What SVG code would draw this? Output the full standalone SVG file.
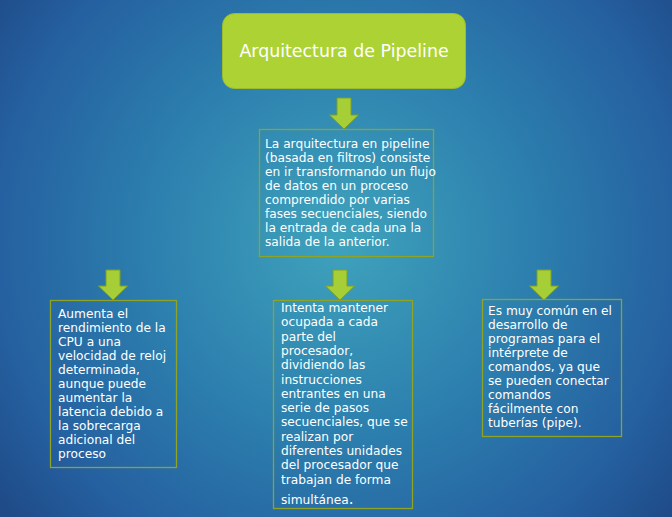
<svg xmlns="http://www.w3.org/2000/svg" width="672" height="517" viewBox="0 0 672 517">
<defs>
<radialGradient id="bg" cx="340" cy="240" r="430" gradientUnits="userSpaceOnUse">
<stop offset="0" stop-color="#3fa3bc"/>
<stop offset="0.45" stop-color="#2c7fae"/>
<stop offset="0.8" stop-color="#2560a0"/>
<stop offset="1" stop-color="#1f4b88"/>
</radialGradient>
<path id="arrowTop" d="M-7,0 H7 V17 H14.5 L0,31 L-14.5,17 H-7 Z"/>
<path id="arrow" d="M-7,0 H7 V16 H14.5 L0,30 L-14.5,16 H-7 Z"/>
</defs>
<style>
.arw{fill:#a6cf37;stroke:#7f9f22;stroke-width:1}
.box{fill:none;stroke:#8fa324;stroke-width:1.3}
.t{font-family:"DejaVu Sans","Liberation Sans",sans-serif;font-size:12.2px;fill:#ffffff}
.title{font-family:"DejaVu Sans","Liberation Sans",sans-serif;font-size:17.4px;fill:#ffffff}
</style>
<rect x="0" y="0" width="672" height="517" fill="url(#bg)"/>

<g id="connectors">
<use href="#arrowTop" x="344" y="98" class="arw"/>
<use href="#arrow" x="113" y="270" class="arw"/>
<use href="#arrow" x="340" y="270" class="arw"/>
<use href="#arrow" x="544" y="270" class="arw"/>
</g>

<g id="title">
<rect x="222.5" y="13.5" width="243" height="75" rx="12" fill="#acd333" stroke="#9bbd2d" stroke-width="1"/>
<text class="title" x="344" y="57" text-anchor="middle">Arquitectura de Pipeline</text>
</g>

<g id="desc">
<rect class="box" x="259.5" y="129.5" width="174" height="127"/>
<text class="t">
<tspan x="265" y="148">La arquitectura en pipeline</tspan>
<tspan x="265" y="162">(basada en filtros) consiste</tspan>
<tspan x="265" y="176">en ir transformando un flujo</tspan>
<tspan x="265" y="190">de datos en un proceso</tspan>
<tspan x="265" y="204">comprendido por varias</tspan>
<tspan x="265" y="218">fases secuenciales, siendo</tspan>
<tspan x="265" y="232">la entrada de cada una la</tspan>
<tspan x="265" y="246">salida de la anterior.</tspan>
</text>
</g>

<g id="left">
<rect class="box" x="50.5" y="300.5" width="126" height="167"/>
<text class="t">
<tspan x="58" y="318">Aumenta el</tspan>
<tspan x="58" y="332">rendimiento de la</tspan>
<tspan x="58" y="346">CPU a una</tspan>
<tspan x="58" y="360">velocidad de reloj</tspan>
<tspan x="58" y="374">determinada,</tspan>
<tspan x="58" y="388">aunque puede</tspan>
<tspan x="58" y="402">aumentar la</tspan>
<tspan x="58" y="416">latencia debido a</tspan>
<tspan x="58" y="430">la sobrecarga</tspan>
<tspan x="58" y="444">adicional del</tspan>
<tspan x="58" y="458">proceso</tspan>
</text>
</g>

<g id="middle">
<rect class="box" x="273.5" y="300.5" width="139" height="208"/>
<text class="t">
<tspan x="281" y="312">Intenta mantener</tspan>
<tspan x="281" y="326.3">ocupada a cada</tspan>
<tspan x="281" y="340.6">parte del</tspan>
<tspan x="281" y="354.9">procesador,</tspan>
<tspan x="281" y="369.2">dividiendo las</tspan>
<tspan x="281" y="383.5">instrucciones</tspan>
<tspan x="281" y="397.8">entrantes en una</tspan>
<tspan x="281" y="412.1">serie de pasos</tspan>
<tspan x="281" y="426.4">secuenciales, que se</tspan>
<tspan x="281" y="440.7">realizan por</tspan>
<tspan x="281" y="455">diferentes unidades</tspan>
<tspan x="281" y="469.3">del procesador que</tspan>
<tspan x="281" y="483.6">trabajan de forma</tspan>
<tspan x="281" y="504">simultánea<tspan font-size="15px">.</tspan></tspan>
</text>
</g>

<g id="right">
<rect class="box" x="482.5" y="299.5" width="139" height="137"/>
<text class="t">
<tspan x="488" y="315">Es muy común en el</tspan>
<tspan x="488" y="329">desarrollo de</tspan>
<tspan x="488" y="343">programas para el</tspan>
<tspan x="488" y="357">intérprete de</tspan>
<tspan x="488" y="371">comandos, ya que</tspan>
<tspan x="488" y="385">se pueden conectar</tspan>
<tspan x="488" y="399">comandos</tspan>
<tspan x="488" y="413">fácilmente con</tspan>
<tspan x="488" y="427">tuberías (pipe).</tspan>
</text>
</g>
</svg>
